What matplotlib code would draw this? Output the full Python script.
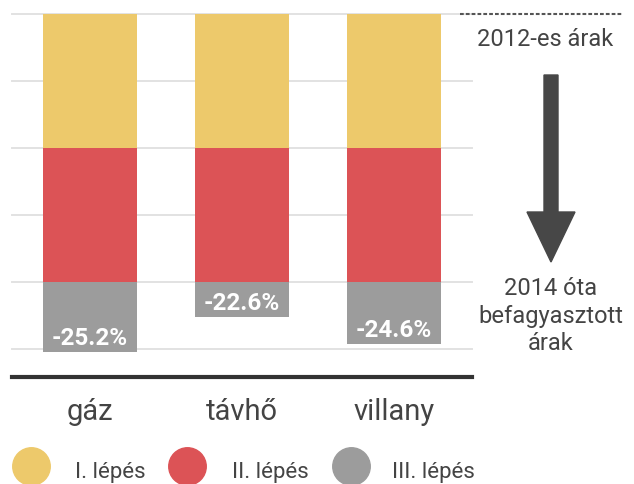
import numpy as np
import matplotlib
matplotlib.use("Agg")
import matplotlib.pyplot as plt
from matplotlib.lines import Line2D
from matplotlib.patches import Polygon

plt.rcParams['font.family'] = ['Roboto', 'DejaVu Sans']

# adatok
categories = ['gáz', 'távhő', 'villany']
step1 = [10, 10, 10]          # I. lépés
step2 = [10, 10, 10]          # II. lépés
totals = [25.2, 22.6, 24.6]   # teljes csökkenés, %
labels = ['-25.2%', '-22.6%', '-24.6%']
legend_names = ['I. lépés', 'II. lépés', 'III. lépés']

colors = ['#EDC96B', '#DC5356', '#9C9C9C']
text_col = '#444444'

W, H = 634, 485
fig = plt.figure(figsize=(W / 100, H / 100), dpi=100)

def fx(px):
    return px / W

def fy(py):
    return 1 - py / H

# tengely: x 12..472 px, y 15..378 px
ax = fig.add_axes([fx(12), fy(378), fx(472) - fx(12), fy(15) - fy(378)])
ppp = 13.4  # pixel / százalék
ax.set_ylim(-(378 - 15) / ppp, 0)
ax.set_xlim(-78 / 152, 2 + 78 / 152)

x = np.arange(len(categories))
step3 = [t - a - b for t, a, b in zip(totals, step1, step2)]
bw = 94 / 152

for g in [0, -5, -10, -15, -20, -25]:
    ax.axhline(g, color='#e2e2e2', lw=1.4, zorder=0, clip_on=False)

ax.bar(x, [-v for v in step1], bottom=0, width=bw, color=colors[0], zorder=2)
ax.bar(x, [-v for v in step2], bottom=[-v for v in step1], width=bw, color=colors[1], zorder=2)
ax.bar(x, [-v for v in step3], bottom=[-(a + b) for a, b in zip(step1, step2)],
       width=bw, color=colors[2], zorder=2)

for xi, t, lab in zip(x, totals, labels):
    ax.text(xi, -t + 0.55, lab, ha='center', va='baseline', color='white',
            fontsize=17.5, fontweight='bold', zorder=3)

for s in ['top', 'left', 'right']:
    ax.spines[s].set_visible(False)
ax.spines['bottom'].set_color('#333333')
ax.spines['bottom'].set_linewidth(3)
ax.set_xticks([])
ax.set_yticks([])

for xi, c in zip(x, categories):
    ax.text(xi, -(420 - 378) / 363, c, transform=ax.get_xaxis_transform(),
            ha='center', va='baseline', fontsize=21, color=text_col)

# jobb oldali magyarázat
fig.add_artist(Line2D([fx(460), fx(623)], [fy(15), fy(15)], color='#555555',
                      lw=1.5, ls=(0, (1.8, 1.0)), transform=fig.transFigure))
fig.text(fx(545), fy(40), '2012-es árak', ha='center', va='center',
         fontsize=17, color=text_col)

cx = 551
arrow_px = [(cx - 7, 76), (cx + 7, 76), (cx + 7, 213), (cx + 24, 213),
            (cx, 263), (cx - 24, 213), (cx - 7, 213)]
fig.add_artist(Polygon([(fx(a), fy(b)) for a, b in arrow_px], closed=True,
                       color='#474747', transform=fig.transFigure))

fig.text(fx(cx), fy(316), '2014 óta\nbefagyasztott\nárak', ha='center', va='center',
         fontsize=17, color=text_col, linespacing=1.25)

# jelmagyarázat
leg_cx = [31, 187, 351]
leg_tx = [75, 232, 392]
for c, cxp, txp, name in zip(colors, leg_cx, leg_tx, legend_names):
    fig.add_artist(Line2D([fx(cxp)], [fy(467)], marker='o', markersize=27,
                          color=c, lw=0, transform=fig.transFigure))
    fig.text(fx(txp), fy(478), name, ha='left', va='baseline',
             fontsize=16, color=text_col)

fig.savefig('out.png', dpi=100)
